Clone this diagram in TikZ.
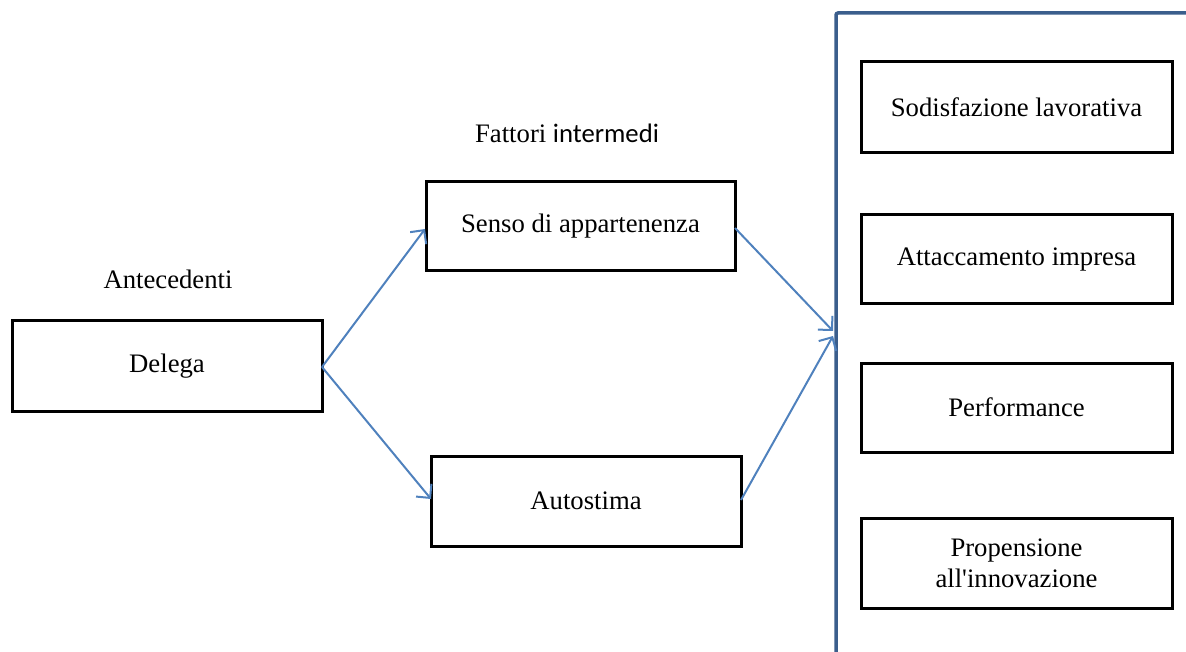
\documentclass[tikz,border=0pt]{standalone}
\usepackage{fontspec}
\setmainfont{Liberation Serif}
\newfontfamily\aposfont{Liberation Serif}
\newfontfamily\labsans{Carlito}
\usetikzlibrary{arrows.meta}
\begin{document}
\begin{tikzpicture}[x=1pt,y=-1pt,
  box/.style={draw=black,line width=3pt,rectangle,minimum width=#1,inner sep=0pt,align=center,font=\fontsize{26.7}{31}\selectfont},
  box/.default=310pt,
  lbl/.style={font=\fontsize{26.7}{31}\selectfont,inner sep=0pt},
  link/.style={draw={rgb,255:red,79;green,129;blue,189},line width=2pt,-{Straight Barb[length=10pt,width=20pt,line width=2pt]}},
  frame/.style={draw={rgb,255:red,59;green,94;blue,140},line width=3.5pt}]
\useasboundingbox (0,0) rectangle (1186,652);
\node[box,minimum height=90pt] (delega) at (167,366) {Delega};
\node[box,minimum height=89pt,minimum width=309pt] (senso) at (580.5,226.5) {Senso di appartenenza};
\node[box,minimum height=90pt] (auto) at (586,501) {Autostima};
\node[box,minimum height=91pt,minimum width=311pt] (sod) at (1016.5,107.5) {Sodisfazione lavorativa};
\node[box,minimum height=89pt,minimum width=311pt] (att) at (1016.5,259.5) {Attaccamento impresa};
\node[box,minimum height=89pt,minimum width=311pt] (perf) at (1016.5,407.5) {Performance};
\node[box,minimum height=90pt,minimum width=311pt] (prop) at (1016.5,563) {Propensione\\all{\aposfont'}innovazione};
\node[lbl] (ante) at (168,279) {Antecedenti};
\node[lbl] (fatt) at (567,133) {Fattori {\labsans intermedi}};
\coordinate (fb) at (836,652);
\coordinate (fc) at (836,13);
\coordinate (fr) at (1186,13);
\coordinate (t1) at (833,331);
\coordinate (t2) at (833,336);
\coordinate (s1) at (735,228);
\coordinate (s2) at (741,500);
\coordinate (d0) at (322,367);
\coordinate (a1) at (425,229);
\coordinate (a2) at (431,499);
\draw[frame,rounded corners=2pt] (fb) -- (fc) -- (fr);
\draw[link] (d0) -- (a1);
\draw[link] (d0) -- (a2);
\draw[link] (s1) -- (t1);
\draw[link] (s2) -- (t2);
\end{tikzpicture}
\end{document}
